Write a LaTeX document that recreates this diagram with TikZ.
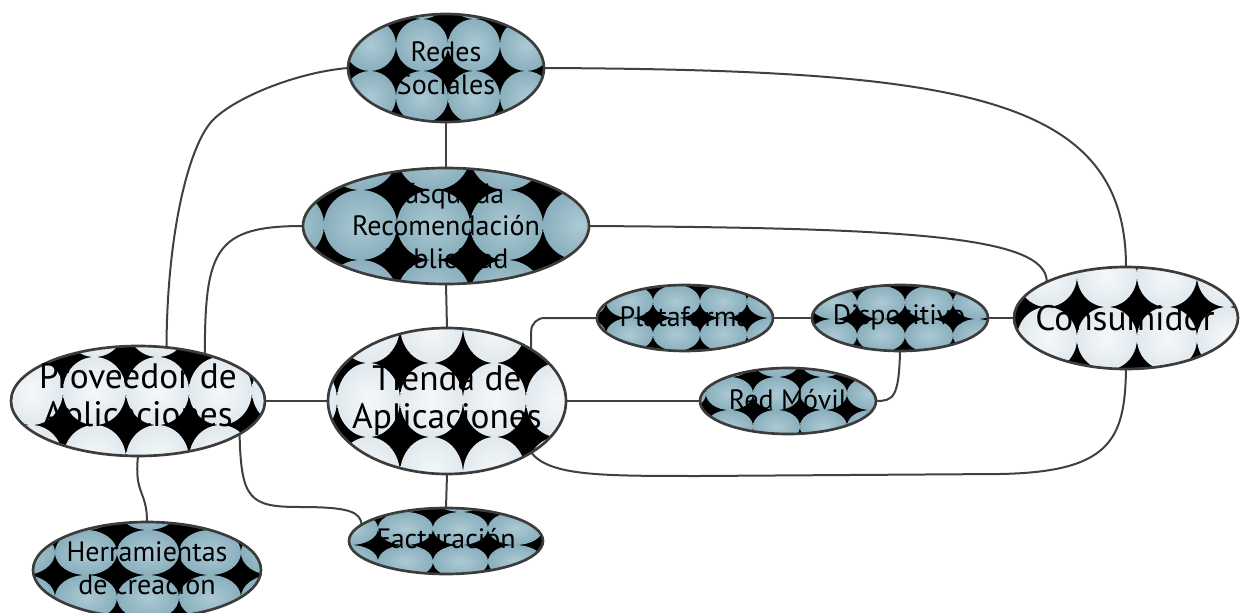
\documentclass[tikz,border=0pt]{standalone}
\usepackage{fontspec}
\setmainfont{PT Sans}
\usetikzlibrary{shapes.geometric}
\pgfdeclarelayer{bg}
\pgfsetlayers{bg,main}
\definecolor{bluein}{HTML}{ABCAD4}
\definecolor{blueout}{HTML}{8AAFBD}
\definecolor{lightin}{HTML}{F5F8FA}
\definecolor{lightout}{HTML}{E1E9EE}
\definecolor{edgecol}{HTML}{3C3C3C}
\definecolor{wirecol}{HTML}{404040}
\tikzset{
  bluec/.style={inner color=bluein, outer color=blueout},
  lightc/.style={inner color=lightin, outer color=lightout},
  bubble/.style={ellipse, draw=edgecol, line width=2pt, inner sep=0pt, outer sep=0pt},
  wire/.style={draw=wirecol, line width=1.5pt},
  smalltxt/.style={align=center, inner sep=0pt, text=black, font=\fontsize{21}{24.5}\selectfont},
  bigtxt/.style={align=center, inner sep=0pt, text=black, font=\fontsize{26.5}{28.5}\selectfont},
}
% #1 cx, #2 cy, #3 rx, #4 ry, #5 tile w, #6 tile h, #7 star x, #8 star y, #9 shading style
\newcommand\ellpat[9]{%
  \begin{scope}
    \clip (#1,#2) ellipse [x radius=#3*0.75pt, y radius=#4*0.75pt];
    \fill[black] (#1,#2) ellipse [x radius=#3*0.75pt, y radius=#4*0.75pt];
    \foreach \i in {-5,...,4}{\foreach \j in {-3,...,2}{
      \shade[#9] ({#7+(\i+0.5)*#5},{#8+(\j+0.5)*#6}) ellipse [x radius=#5*0.375pt, y radius=#6*0.375pt];}}
  \end{scope}}
\begin{document}
\begin{tikzpicture}[x=0.75pt,y=-0.75pt]
\useasboundingbox (0,0) rectangle (1243,613);

% Redes Sociales
\ellpat{446}{68}{98}{54}{52}{52}{448}{71}{bluec}
\node[bubble, minimum width=147pt, minimum height=81pt] (redes) at (446,68) {};
\node[smalltxt] (t-redes) at (446,68) {Redes\\Sociales};

% Busqueda
\ellpat{446}{226}{143}{58}{73}{70}{470}{190}{bluec}
\node[bubble, minimum width=214.5pt, minimum height=87pt] (busq) at (446,226) {};
\node[smalltxt] (t-busq) at (446,226) {Búsqueda\\Recomendación\\Publicidad};

% Proveedor
\ellpat{138}{401}{127}{55}{63}{68}{126}{357}{lightc}
\node[bubble, minimum width=190.5pt, minimum height=82.5pt] (prov) at (138,401) {};
\node[bigtxt] (t-prov) at (138,399) {Proveedor de\\Aplicaciones};

% Tienda
\ellpat{447}{401}{119}{73}{63}{74}{463}{363}{lightc}
\node[bubble, minimum width=178.5pt, minimum height=109.5pt] (tienda) at (447,401) {};
\node[bigtxt] (t-tienda) at (447,401) {Tienda de\\Aplicaciones};

% Consumidor
\ellpat{1126}{318}{112}{51}{60}{63}{1137}{307}{lightc}
\node[bubble, minimum width=168pt, minimum height=76.5pt] (cons) at (1126,318) {};
\node[bigtxt] (t-cons) at (1125,318) {Consumidor};

% Plataforma
\ellpat{685}{318}{88}{33}{47}{33}{700}{318}{bluec}
\node[bubble, minimum width=132pt, minimum height=49.5pt] (plat) at (685,318) {};
\node[smalltxt] (t-plat) at (685,317) {Plataforma};

% Dispositivo
\ellpat{900}{318}{88}{33}{48}{33}{905}{319}{bluec}
\node[bubble, minimum width=132pt, minimum height=49.5pt] (disp) at (900,318) {};
\node[smalltxt] (t-disp) at (899,317) {Dispositivo};

% Red Movil
\ellpat{788}{401}{88}{33}{47}{33}{753}{410}{bluec}
\node[bubble, minimum width=132pt, minimum height=49.5pt] (redm) at (788,401) {};
\node[smalltxt] (t-redm) at (788,400) {Red Móvil};

% Herramientas
\ellpat{147}{570}{114}{48}{62}{45}{117}{575}{bluec}
\node[bubble, minimum width=171pt, minimum height=72pt] (herr) at (147,570) {};
\node[smalltxt] (t-herr) at (147,568) {Herramientas\\de creación};

% Facturacion
\ellpat{446}{541}{97}{33}{55}{33}{433}{545}{bluec}
\node[bubble, minimum width=145.5pt, minimum height=49.5pt] (fact) at (446,541) {};
\node[smalltxt] (t-fact) at (446,539) {Facturación};

\begin{pgfonlayer}{bg}
\draw[wire] (redes.south) -- (busq.north);
\draw[wire] (busq.south) -- (tienda.north);
\draw[wire] (tienda.south) -- (fact.north);
\draw[wire] (prov.east) -- (tienda.west);
\draw[wire] (tienda.east) -- (redm.west);
\draw[wire] (plat.east) -- (disp.west);
\draw[wire] (disp.east) -- (cons.west);
\draw[wire] (disp.south) .. controls (899,398) and (893,401) .. (redm.east);
\draw[wire, rounded corners=10pt] (tienda.north east) |- (plat.west);
\draw[wire] (tienda.south east) .. controls (550,476) and (600,476) .. (700,476) -- (1000,474) .. controls (1110,472) and (1125,440) .. (cons.south);
\draw[wire] (redes.east) .. controls (960,70) and (1126,95) .. (cons.north);
\draw[wire] (busq.east) .. controls (900,228) and (1047,235) .. (cons.north west);
\draw[wire] (redes.west) .. controls (300,72) and (240,95) .. (215,118) .. controls (190,140) and (167,230) .. (prov.62);
\draw[wire] (busq.west) .. controls (215,226) and (205,250) .. (prov.35);
\draw[wire] (prov.south) .. controls (134,495) and (147,490) .. (herr.north);
\draw[wire] (prov.-18) .. controls (241,500) and (250,507) .. (300,507) .. controls (350,507) and (360,512) .. (fact.169);
\end{pgfonlayer}
\end{tikzpicture}
\end{document}
